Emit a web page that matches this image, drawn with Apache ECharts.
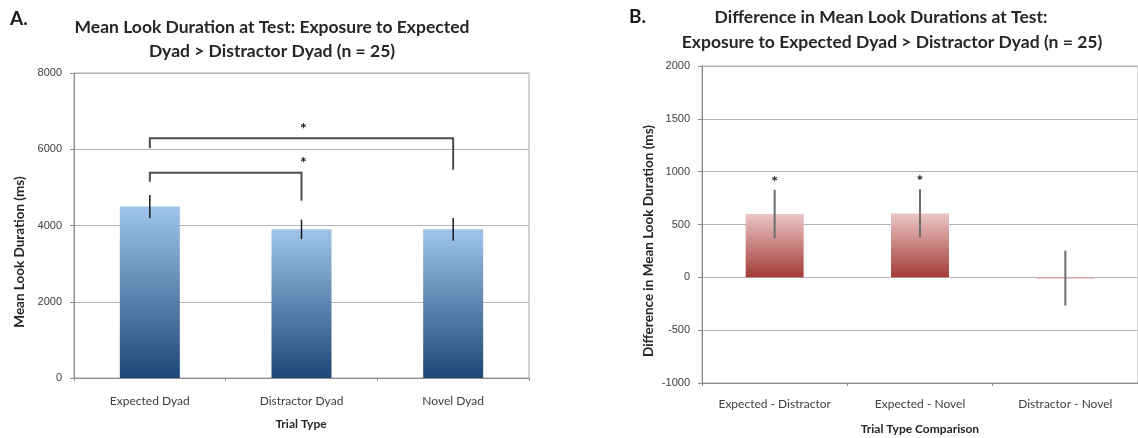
<!DOCTYPE html>
<html>
<head>
<meta charset="utf-8">
<title>Mean Look Duration at Test</title>
<script src="https://cdn.jsdelivr.net/npm/echarts@6/dist/echarts.min.js"></script>
<style>
  html, body { margin: 0; padding: 0; background: #ffffff; }
  #chart { width: 1138px; height: 438px; }
</style>
</head>
<body>
<div id="chart"></div>
<script>
// Panel A: mean look duration per trial type (ms)
const trialTypes = ['Expected Dyad', 'Distractor Dyad', 'Novel Dyad'];
const meanLook = [4500, 3900, 3900];
const meanLookSE = [300, 255, 300];
const meanTicks = { min: 0, max: 8000, interval: 2000 };
// significance brackets: [fromIndex, toIndex, barLevel, leftEnd, rightEnd, starLevel]
const meanBrackets = [
  [0, 1, 5385, 5150, 4650, 5720],
  [0, 2, 6290, 6025, 5460, 6620]
];

// Panel B: difference in mean look durations (ms)
const comparisons = ['Expected - Distractor', 'Expected - Novel', 'Distractor - Novel'];
const diffLook = [600, 605, -8];
const diffLookSE = [228, 228, 260];
const diffStars = ['*', '*', ''];
const diffTicks = { min: -1000, max: 2000, interval: 500 };

const labelFont = 'Lato, "Open Sans", sans-serif';
const tickFont = '"Liberation Sans", Arial, sans-serif';

const blueFill = new echarts.graphic.LinearGradient(0, 0, 0, 1, [
  { offset: 0, color: '#9fc5ea' },
  { offset: 1, color: '#1d4776' }
]);
const redFill = new echarts.graphic.LinearGradient(0, 0, 0, 1, [
  { offset: 0, color: '#ecc6c6' },
  { offset: 1, color: '#a23b38' }
]);

function valueAxis(gridIndex, ticks) {
  return {
    type: 'value', gridIndex,
    min: ticks.min, max: ticks.max, interval: ticks.interval,
    axisLine: { show: true, lineStyle: { color: '#8c8c8c', width: 1 } },
    axisTick: { show: true, length: 4, lineStyle: { color: '#8c8c8c' } },
    axisLabel: { color: '#404040', fontFamily: tickFont, fontSize: 11, margin: 12, formatter: v => String(v) },
    splitLine: { show: true, lineStyle: { color: '#b4b4b4', width: 1 } }
  };
}
function categoryAxis(gridIndex, cats, margin) {
  return {
    type: 'category', gridIndex, data: cats,
    axisLine: { show: true, onZero: false, lineStyle: { color: '#8c8c8c', width: 1 } },
    axisTick: { show: true, length: 3, lineStyle: { color: '#8c8c8c' } },
    axisLabel: { color: '#404040', fontFamily: labelFont, fontSize: 12, margin, interval: 0 }
  };
}

function errorBarSeries(xi, yi, means, errs, color, width) {
  return {
    type: 'custom', xAxisIndex: xi, yAxisIndex: yi, z: 5,
    data: means.map((m, i) => [i, m, errs[i]]),
    renderItem(params, api) {
      const i = api.value(0), m = api.value(1), e = api.value(2);
      const hi = api.coord([i, m + e]);
      const lo = api.coord([i, m - e]);
      return {
        type: 'line',
        shape: { x1: hi[0], y1: hi[1], x2: lo[0], y2: lo[1] },
        style: { stroke: color, lineWidth: width }
      };
    }
  };
}

function textEl(x, y, text, font, rotation) {
  return {
    type: 'text', x, y, rotation: rotation || 0,
    style: { text, font, fill: '#262626', textAlign: 'center', textVerticalAlign: 'middle' }
  };
}

const titleFont = 'bold 17.5px ' + labelFont;
const option = {
  backgroundColor: '#ffffff',
  animation: false,
  grid: [
    { left: 74, top: 73, width: 455, height: 305, show: true, borderColor: '#a8a8a8', borderWidth: 1 },
    { left: 702, top: 66, width: 438, height: 317, show: true, borderColor: '#a8a8a8', borderWidth: 1 }
  ],
  xAxis: [categoryAxis(0, trialTypes, 17), categoryAxis(1, comparisons, 15)],
  yAxis: [valueAxis(0, meanTicks), valueAxis(1, diffTicks)],
  graphic: [
    { type: 'text', left: 10, top: 9, style: { text: 'A.', font: 'bold 19px ' + labelFont, fill: '#1a1a1a' } },
    { type: 'text', left: 629, top: 7, style: { text: 'B.', font: 'bold 19px ' + labelFont, fill: '#1a1a1a' } },
    textEl(272, 27, 'Mean Look Duration at Test: Exposure to Expected', titleFont),
    textEl(272, 51, 'Dyad > Distractor Dyad (n = 25)', titleFont),
    textEl(881, 17, 'Difference in Mean Look Durations at Test:', titleFont),
    textEl(892, 42, 'Exposure to Expected Dyad > Distractor Dyad (n = 25)', titleFont),
    textEl(301, 424, 'Trial Type', 'bold 12px ' + labelFont),
    textEl(920, 429, 'Trial Type Comparison', 'bold 12px ' + labelFont),
    textEl(20, 252, 'Mean Look Duration (ms)', 'bold 13.5px ' + labelFont, Math.PI / 2),
    textEl(649, 241, 'Difference in Mean Look Duration (ms)', 'bold 13.5px ' + labelFont, Math.PI / 2)
  ],
  series: [
    {
      type: 'bar', xAxisIndex: 0, yAxisIndex: 0, barWidth: 60,
      data: meanLook, itemStyle: { color: blueFill }
    },
    errorBarSeries(0, 0, meanLook, meanLookSE, '#1a1a1a', 1.5),
    {
      type: 'custom', xAxisIndex: 0, yAxisIndex: 0, z: 6,
      data: meanBrackets,
      renderItem(params, api) {
        const a = api.value(0), b = api.value(1), lvl = api.value(2);
        const p1 = api.coord([a, api.value(3)]);
        const p2 = api.coord([a, lvl]);
        const p3 = api.coord([b, lvl]);
        const p4 = api.coord([b, api.value(4)]);
        const star = api.coord([(a + b) / 2, api.value(5)]);
        return {
          type: 'group',
          children: [
            { type: 'polyline', shape: { points: [p1, p2, p3, p4] }, style: { stroke: '#4d4d4d', lineWidth: 2, fill: null } },
            { type: 'text', x: star[0] + 2, y: star[1] + 3, style: { text: '*', font: 'bold 16px ' + labelFont, fill: '#1a1a1a', textAlign: 'center', textVerticalAlign: 'middle' } }
          ]
        };
      }
    },
    {
      type: 'bar', xAxisIndex: 1, yAxisIndex: 1, barWidth: 58,
      data: diffLook, itemStyle: { color: redFill }
    },
    errorBarSeries(1, 1, diffLook, diffLookSE, '#6e6e6e', 2),
    {
      type: 'custom', xAxisIndex: 1, yAxisIndex: 1, z: 6,
      data: diffLook.map((m, i) => [i, m + diffLookSE[i]]),
      renderItem(params, api) {
        const i = api.value(0);
        const p = api.coord([i, api.value(1)]);
        return {
          type: 'text', x: p[0], y: p[1] - 8,
          style: { text: diffStars[i], font: 'bold 16px ' + labelFont, fill: '#1a1a1a', textAlign: 'center', textVerticalAlign: 'middle' }
        };
      }
    }
  ]
};

const chart = echarts.init(document.getElementById('chart'), null, { renderer: 'canvas' });
chart.setOption(option);
</script>
</body>
</html>
